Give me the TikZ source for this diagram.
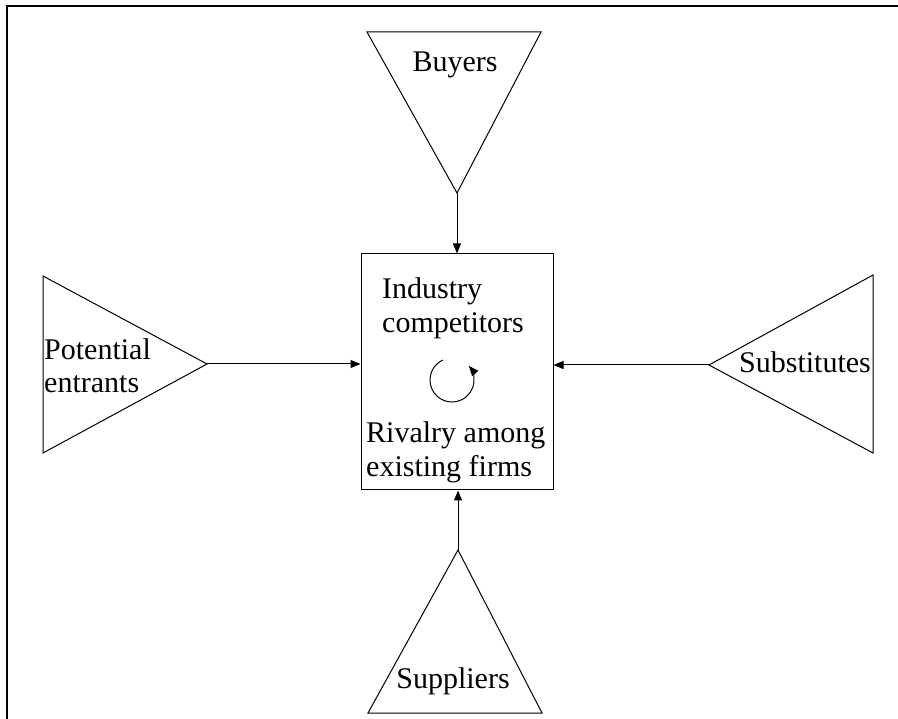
\documentclass[tikz,border=0pt]{standalone}
\usepackage{fontspec}
\setmainfont{Liberation Serif}
\usetikzlibrary{arrows.meta,calc}
\begin{document}
\begin{tikzpicture}[x=1pt,y=-1pt,
  force/.style={draw=black,line width=1pt,line join=miter},
  label/.style={inner sep=0pt,font=\fontsize{30}{34}\selectfont},
  link/.style={draw=black,line width=1pt,-{Triangle[length=10pt,width=8pt]}}]
\useasboundingbox (0,0) rectangle (898,719);
% outer frame: top and left edges
\draw[line width=2pt] (7,719) -- (7,6) -- (898,6);

% central box
\node[force,minimum width=192pt,minimum height=236pt,inner sep=0pt] (box) at (457,372) {};
\node[label,anchor=base west] (ind1) at (382,299) {Industry};
\node[label,anchor=base west] (ind2) at (382,333) {competitors};
\node[label,anchor=base west] (riv1) at (366,443) {Rivalry among};
\node[label,anchor=base west] (riv2) at (366,477) {existing firms};
\coordinate (rc) at (452,380);
\draw[line width=1pt,-{Triangle[length=10pt,width=8pt]}]
  ($(rc)+(115:22pt)$) arc[start angle=115,end angle=400,radius=22pt];

% buyers (top)
\coordinate (bA) at (367,32);
\coordinate (bB) at (541,32);
\coordinate (bT) at (457,193);
\draw[force] (bA) -- (bB) -- (bT) -- cycle;
\node[label,anchor=base] (buy) at (455,72) {Buyers};

% potential entrants (left)
\coordinate (pA) at (43,276);
\coordinate (pB) at (43,453);
\coordinate (pT) at (207,364);
\draw[force] (pA) -- (pT) -- (pB) -- cycle;
\node[label,anchor=base west] (pe1) at (44,360) {Potential};
\node[label,anchor=base west] (pe2) at (44,393) {entrants};

% substitutes (right)
\coordinate (sA) at (873,275);
\coordinate (sB) at (873,453);
\coordinate (sT) at (709,365);
\draw[force] (sA) -- (sT) -- (sB) -- cycle;
\node[label,anchor=base west] (sub) at (739,373) {Substitutes};

% suppliers (bottom)
\coordinate (uA) at (368,713);
\coordinate (uB) at (542,713);
\coordinate (uT) at (458,550);
\draw[force] (uA) -- (uT) -- (uB) -- cycle;
\node[label,anchor=base] (sup) at (453,688) {Suppliers};

% forces acting on the industry
\draw[link] (bT) -- (bT |- box.north);
\draw[link] (pT) -- (pT -| box.west);
\draw[link] (sT) -- (sT -| box.east);
\draw[link] (uT) -- (uT |- box.south);
\end{tikzpicture}
\end{document}
